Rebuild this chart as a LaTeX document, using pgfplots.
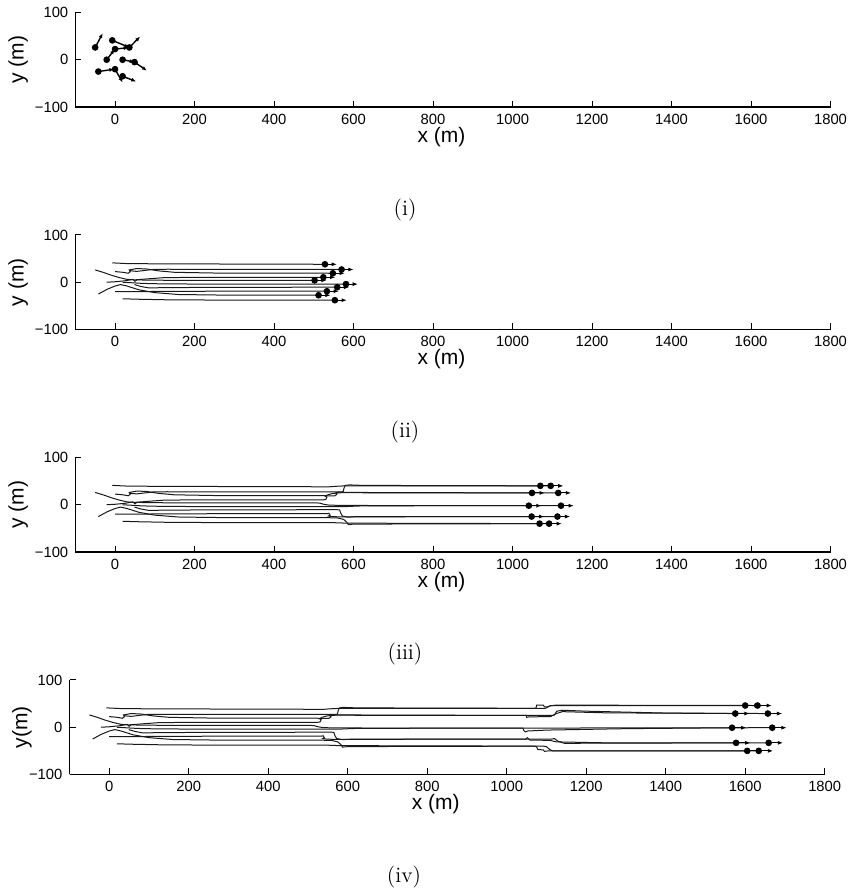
\documentclass[border=0pt]{standalone}
\usepackage{fontspec}
\usepackage{pgfplots}
\pgfplotsset{compat=1.18}
\usepackage{pgfplotstable}
\usetikzlibrary{arrows.meta}
\newfontfamily\arial{Liberation Sans}

% Vehicle trajectories: x (m), y (m), s = stage (1: up to snapshot ii, 2: up to iii, 3: up to iv)
\pgfplotstableread{
x y s
-7 41 1
30 39.5 1
100 39 1
300 38.5 1
528 38 1
540 38 2
555 39 2
580 40 2
700 40 2
1070 40 2
1074 41 3
1075 47 3
1092 47 3
1095 43 3
1102 43 3
1112 46 3
1200 46 3
1600 46 3
}\agA
\pgfplotstableread{
x y s
0 22.6 1
20 21 1
33 19 1
38 22 1
36 25.5 1
41 24 1
55 23 1
75 25 1
95 27 1
130 27.5 1
300 27.2 1
570 27 1
574 28 2
576 35 2
579 41 2
590 42 2
620 41 2
800 40.5 2
1096 40 2
1100 41 3
1108 45 3
1125 47 3
1300 46.5 3
1631 46 3
}\agB
\pgfplotstableread{
x y s
36 26 1
55 29 1
80 28 1
110 24 1
150 21 1
250 19.5 1
548 19 1
553 19 2
558 22 2
555 25 2
562 26.5 2
600 26 2
800 25.5 2
1115 25 2
1120 26 3
1126 34 3
1140 36 3
1200 34 3
1400 30 3
1657 29 3
}\agC
\pgfplotstableread{
x y s
-50 26 1
-30 21 1
-10 15 1
10 10 1
30 6 1
50 5 1
80 7 1
120 9.5 1
200 10.5 1
524 10.5 1
530 11 2
533 16 2
529 18 2
535 21 2
548 24 2
570 25.5 2
700 25.2 2
1049 25 2
1050 21 3
1056 22 3
1110 22.5 3
1125 29 3
1140 33 3
1250 30.5 3
1575 29 3
}\agD
\pgfplotstableread{
x y s
-21 0 1
0 1 1
25 3 1
45 6 1
50 2 1
55 5 1
80 4.5 1
150 4 1
502 4 1
515 3.5 2
525 1 2
540 -1 2
700 -2 2
1041 -2 2
1043 -7 3
1047 -10 3
1052 -8 3
1100 -6 3
1300 -3 3
1567 -1 3
}\agE
\pgfplotstableread{
x y s
19 0 1
40 -1 1
70 -2.5 1
120 -3.5 1
250 -4 1
581 -4 1
590 -3.5 2
620 -2.5 2
800 -2 2
1122 -2 2
1200 -1.5 3
1668 -1 3
}\agF
\pgfplotstableread{
x y s
49 -5 1
65 -9 1
85 -12 1
120 -11.5 1
250 -10.8 1
559 -10.5 1
565 -11 2
568 -18 2
572 -24 2
585 -26 2
650 -25.5 2
1113 -25 2
1120 -24 3
1130 -30 3
1145 -34 3
1300 -33.5 3
1659 -33 3
}\agG
\pgfplotstableread{
x y s
0 -20 1
50 -20 1
100 -19.5 1
250 -19 1
533 -19 1
538 -18 2
541 -22 2
537 -24 2
545 -25 2
560 -25.5 2
700 -25.2 2
1048 -25 2
1052 -22 3
1058 -27 3
1070 -27 3
1110 -28 3
1125 -31 3
1250 -33 3
1577 -33 3
}\agH
\pgfplotstableread{
x y s
-42 -25 1
-20 -15 1
0 -8 1
14 -5 1
30 -8 1
60 -16 1
100 -22 1
160 -26 1
300 -27.5 1
512 -27.5 1
540 -27.5 2
560 -28 2
575 -31 2
583 -37 2
587 -42 2
600 -41 2
800 -40.5 2
1068 -40 2
1075 -41 3
1078 -47 3
1092 -48 3
1095 -51 3
1105 -50 3
1605 -50 3
}\agI
\pgfplotstableread{
x y s
19 -35 1
60 -36 1
150 -37.5 1
553 -38 1
560 -38.5 2
600 -39 2
1092 -40 2
1100 -41 3
1108 -47 3
1115 -50 3
1300 -50 3
1634 -50 3
}\agJ

% Positions and velocities at each snapshot
\pgfplotstableread{
x y u v
-50 26 19 30
-7 41 43 -15
36 26 27 23
0 22.6 34 3
-21 0 20 22
19 0 30 -5
49 -5 31 -18
-42 -25 40 5
0 -20 19 -28
19 -35 34 -11
}\snapI
\pgfplotstableread{
x y u v
528 38 30 0
570 27 30 0
548 19 30 0
524 10.5 30 0
502 4 30 0
581 -4 30 0
559 -10.5 30 0
533 -19 30 0
512 -27.5 30 0
553 -38 30 0
}\snapII
\pgfplotstableread{
x y u v
1070 40 32 0
1096 40 32 0
1115 25 32 0
1049 25 32 0
1041 -2 32 0
1122 -2 32 0
1113 -25 32 0
1048 -25 32 0
1068 -40 32 0
1092 -40 32 0
}\snapIII
\pgfplotstableread{
x y u v
1600 46 36 0
1631 46 36 0
1657 29 36 0
1575 29 36 0
1567 -1 36 0
1668 -1 36 0
1659 -33 36 0
1577 -33 36 0
1605 -50 36 0
1634 -50 36 0
}\snapIV

\pgfplotsset{
  panel/.style={
    scale only axis, width=377.6pt, height=47.25pt, anchor=south west,
    xmin=-100, xmax=1800, ymin=-100, ymax=100,
    axis lines*=left, clip=false,
    axis line style={line width=0.6pt, black},
    tick align=inside, major tick length=3pt,
    every tick/.style={line width=0.5pt, black},
    xtick={0,200,400,600,800,1000,1200,1400,1600,1800},
    xticklabels={0,200,400,600,800,1000,1200,1400,1600,1800},
    ytick={-100,0,100}, yticklabels={−100,0,100},
    ticklabel style={font=\arial\fontsize{7.4pt}{8.4pt}\selectfont},
    label style={font=\arial\fontsize{10.5pt}{12pt}\selectfont},
    xlabel={x (m)},
    xlabel style={at={(axis description cs:0.485,-0.3175)}, anchor=center},
    ylabel style={at={(axis description cs:-0.0755,0.5)}, anchor=center},
  },
  traj/.style={black!90, line width=0.5pt},
  velo/.style={black, line width=0.45pt, -{Latex[length=2.6pt,width=2pt]}},
  dot/.style={only marks, mark=*, mark size=1.45pt, black},
}

\newcommand\trajs[1]{%
  \addplot[traj, x filter/.expression={\thisrow{s}>#1 ? nan : x}] table[x=x,y=y]{\agA};
  \addplot[traj, x filter/.expression={\thisrow{s}>#1 ? nan : x}] table[x=x,y=y]{\agB};
  \addplot[traj, x filter/.expression={\thisrow{s}>#1 ? nan : x}] table[x=x,y=y]{\agC};
  \addplot[traj, x filter/.expression={\thisrow{s}>#1 ? nan : x}] table[x=x,y=y]{\agD};
  \addplot[traj, x filter/.expression={\thisrow{s}>#1 ? nan : x}] table[x=x,y=y]{\agE};
  \addplot[traj, x filter/.expression={\thisrow{s}>#1 ? nan : x}] table[x=x,y=y]{\agF};
  \addplot[traj, x filter/.expression={\thisrow{s}>#1 ? nan : x}] table[x=x,y=y]{\agG};
  \addplot[traj, x filter/.expression={\thisrow{s}>#1 ? nan : x}] table[x=x,y=y]{\agH};
  \addplot[traj, x filter/.expression={\thisrow{s}>#1 ? nan : x}] table[x=x,y=y]{\agI};
  \addplot[traj, x filter/.expression={\thisrow{s}>#1 ? nan : x}] table[x=x,y=y]{\agJ};
}
\newcommand\snap[1]{%
  \addplot[velo, quiver={u=\thisrow{u}, v=\thisrow{v}}] table[x=x,y=y]{#1};
  \addplot[dot] table[x=x,y=y]{#1};
}

\begin{document}
\begin{tikzpicture}
\useasboundingbox (0,0) rectangle (425.5pt,446pt);

% (i) initial positions and headings
\begin{axis}[panel, at={(37.65pt,392.5pt)}, ylabel={y (m)}]
  \addplot[black, line width=0.7pt, quiver={u=\thisrow{u}, v=\thisrow{v}},
           -{Latex[length=2.4pt,width=2pt]}] table[x=x,y=y]{\snapI};
  \addplot[dot] table[x=x,y=y]{\snapI};
\end{axis}
\node[font=\fontsize{11pt}{13pt}\selectfont] at (202.5pt,341pt) {(i)};

% (ii)
\begin{axis}[panel, at={(37.65pt,281.25pt)}, ylabel={y (m)}]
  \trajs{1}
  \snap{\snapII}
\end{axis}
\node[font=\fontsize{11pt}{13pt}\selectfont] at (202.5pt,230pt) {(ii)};

% (iii)
\begin{axis}[panel, at={(37.65pt,170pt)}, ylabel={y (m)}]
  \trajs{2}
  \snap{\snapIII}
\end{axis}
\node[font=\fontsize{11pt}{13pt}\selectfont] at (202.5pt,119pt) {(iii)};

% (iv)
\begin{axis}[panel, at={(34.75pt,58.75pt)}, ylabel={y(m)},
             ylabel style={at={(axis description cs:-0.063,0.5)}}]
  \trajs{3}
  \snap{\snapIV}
\end{axis}
\node[font=\fontsize{11pt}{13pt}\selectfont] at (202pt,7.5pt) {(iv)};
\end{tikzpicture}
\end{document}
